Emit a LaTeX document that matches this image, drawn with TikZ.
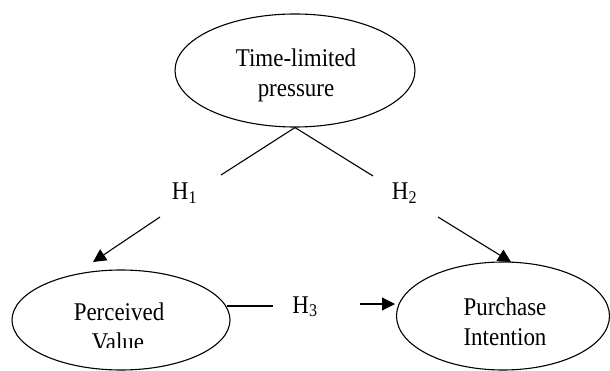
\documentclass[tikz,border=0pt]{standalone}
\usepackage{fontspec}
\setmainfont{Liberation Serif}
\usetikzlibrary{shapes.geometric,arrows.meta}
\newcommand{\nt}[1]{\scalebox{0.9}[1]{#1}}
\tikzset{
  oval/.style={draw, ellipse, line width=1.1pt, inner sep=0pt},
  txt/.style={font=\fontsize{25.5}{30}\selectfont, inner sep=0pt, anchor=base},
  conn/.style={line width=1.1pt},
  arr/.style={line width=1.1pt, -{Triangle[length=13pt,width=13pt]}}
}
\begin{document}
\begin{tikzpicture}[x=1pt,y=-1pt]
\useasboundingbox (0,0) rectangle (610,371);
% ellipses
\node[oval, minimum width=240pt, minimum height=113pt] (tp) at (295,70.5) {};
\node[oval, minimum width=218pt, minimum height=100pt] (pv) at (121,320) {};
\node[oval, minimum width=213pt, minimum height=108pt] (pi) at (503,316) {};
% texts
\node[txt] (tpa) at (296,67) {\nt{Time-limited}};
\node[txt] (tpb) at (296,97) {\nt{pressure}};
\node[txt] (pva) at (119,320) {\nt{Perceived}};
\begin{scope}
  \clip (0,0) rectangle (610,347);
  \node[txt] (pvb) at (118,350) {\nt{Value}};
\end{scope}
\node[txt] (pia) at (505,315) {\nt{Purchase}};
\node[txt] (pib) at (505,345) {\nt{Intention}};
% hypothesis labels
\node[txt] (h1) at (184.5,200) {\nt{H\textsubscript{1}}};
\node[txt] (h2) at (404.5,200) {\nt{H\textsubscript{2}}};
\node[txt] (h3) at (305,313) {\nt{H\textsubscript{3}}};
% connector end points
\coordinate (a1) at (221,175);
\coordinate (a2) at (160,217);
\coordinate (a3) at (93,262);
\coordinate (b1) at (373,176);
\coordinate (b2) at (438,217);
\coordinate (b3) at (511,262);
\coordinate (c0) at (227,306);
\coordinate (c1) at (273,306);
\coordinate (c2) at (360,304);
\coordinate (c3) at (395,304);
% connectors
\draw[conn] (tp.south) -- (a1);
\draw[arr] (a2) -- (a3);
\draw[conn] (tp.south) -- (b1);
\draw[arr] (b2) -- (b3);
\draw[conn] (c0) -- (c1);
\draw[arr] (c2) -- (c3);
\end{tikzpicture}
\end{document}
